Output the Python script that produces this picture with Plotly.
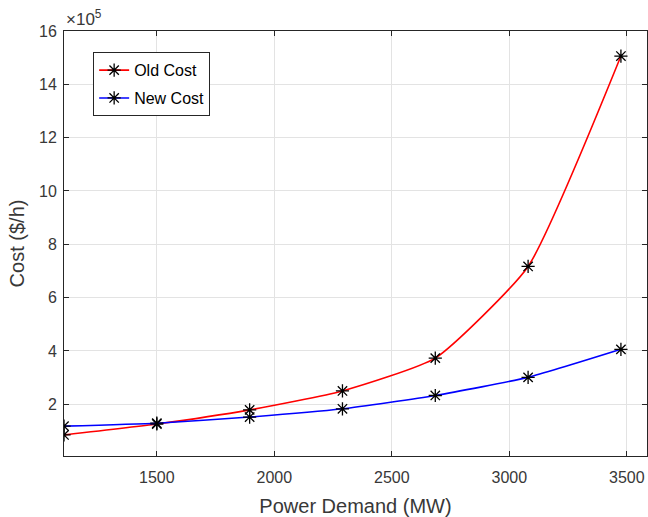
import plotly.graph_objects as go

demand_mw = [1105, 1500, 1895, 2290, 2685, 3080, 3475]
old_cost = [0.85e5, 1.26e5, 1.79e5, 2.50e5, 3.73e5, 7.17e5, 15.06e5]
new_cost = [1.18e5, 1.29e5, 1.52e5, 1.83e5, 2.33e5, 3.01e5, 4.06e5]

x_ticks = [1500, 2000, 2500, 3000, 3500]
y_ticks = [2e5, 4e5, 6e5, 8e5, 10e5, 12e5, 14e5, 16e5]
y_tick_labels = ["2", "4", "6", "8", "10", "12", "14", "16"]

font_family = "Liberation Sans, Arial, Helvetica, sans-serif"
axis_color = "#262626"
text_color = "#383838"

fig = go.Figure()
fig.add_trace(go.Scatter(
    x=demand_mw, y=old_cost, name="Old Cost", mode="lines+markers", legendgroup="old",
    line=dict(color="#ff0000", width=1.6, shape="spline", smoothing=0.5),
    marker=dict(symbol="asterisk-open", size=11, color="black",
                line=dict(color="black", width=1.3)),
))
fig.add_trace(go.Scatter(
    x=demand_mw, y=new_cost, name="New Cost", mode="lines+markers", legendgroup="new",
    line=dict(color="#0000ff", width=1.6, shape="spline", smoothing=0.5),
    marker=dict(symbol="asterisk-open", size=11, color="black",
                line=dict(color="black", width=1.3)),
))

axis_common = dict(
    showline=True, linecolor=axis_color, linewidth=1, mirror="ticks",
    ticks="inside", ticklen=5, tickcolor=axis_color, tickwidth=1,
    showgrid=True, gridcolor="#e3e3e3", gridwidth=1, zeroline=False,
    automargin=False,
    tickfont=dict(family=font_family, size=16, color=text_color),
)

fig.update_xaxes(
    range=[1105, 3586], tickvals=x_ticks, ticktext=[str(v) for v in x_ticks],
    ticklabelstandoff=7,
    title=dict(text="Power Demand (MW)", font=dict(family=font_family, size=20, color=text_color),
               standoff=13),
    **axis_common,
)
fig.update_yaxes(
    range=[0.06e5, 16e5], tickvals=y_ticks, ticktext=y_tick_labels,
    ticklabelstandoff=3,
    title=dict(text="Cost ($/h)", font=dict(family=font_family, size=20, color=text_color),
               standoff=9),
    **axis_common,
)

fig.add_annotation(
    x=0, y=1, xref="paper", yref="paper", xanchor="left", yanchor="bottom",
    text="×10<sup>5</sup>", showarrow=False, yshift=0,
    font=dict(family=font_family, size=17, color=text_color),
)

fig.update_layout(
    width=648, height=517,
    margin=dict(l=64, r=1, t=31, b=61),
    plot_bgcolor="white", paper_bgcolor="white",
    showlegend=True,
    legend=dict(
        x=0.05, y=0.95, xanchor="left", yanchor="top",
        bgcolor="white", bordercolor=axis_color, borderwidth=1,
        font=dict(family=font_family, size=16, color="#000000"),
        tracegroupgap=4, itemwidth=30,
    ),
)

fig.write_html("out.html", config={"displayModeBar": False},
               post_script="document.body.style.margin='0';")
